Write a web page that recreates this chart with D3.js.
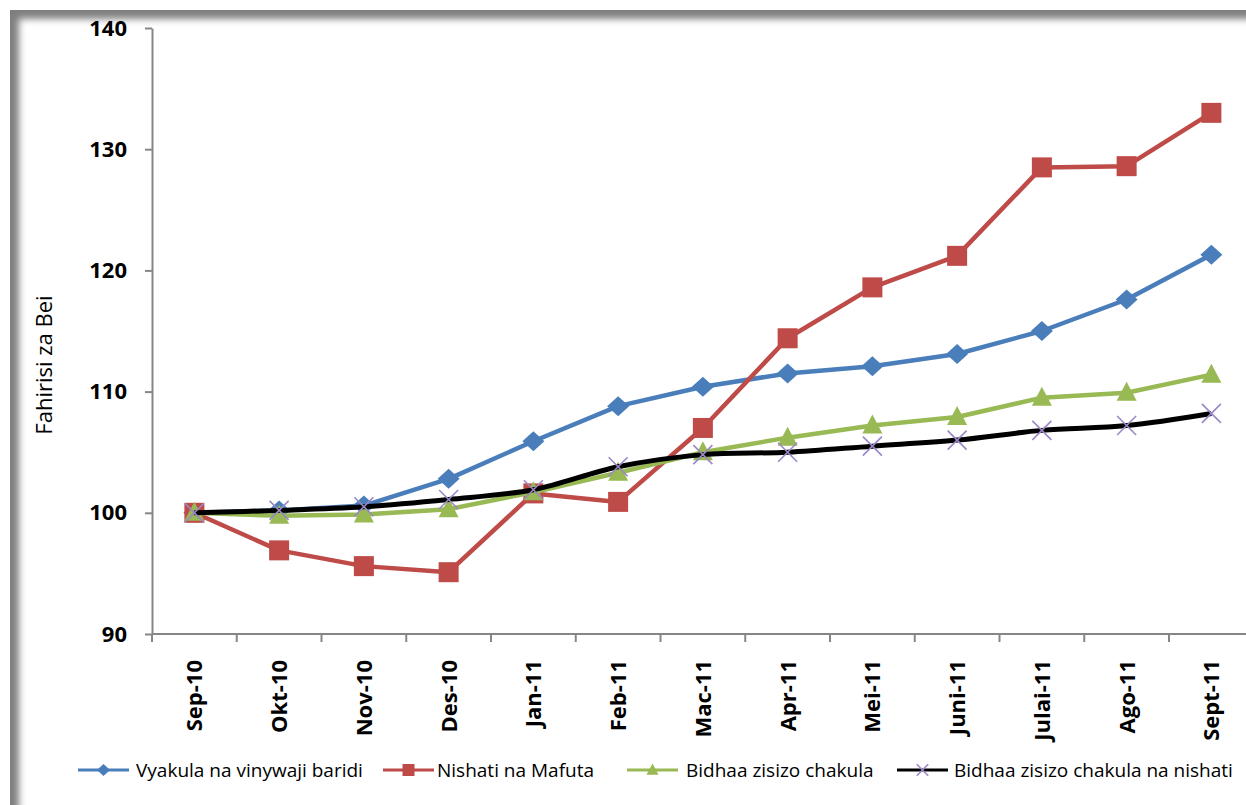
<!DOCTYPE html>
<html>
<head>
<meta charset="utf-8">
<script src="https://cdn.jsdelivr.net/npm/d3@7"></script>
<style>
  html, body { margin: 0; padding: 0; background: #fff; overflow: hidden; }
  text { font-family: "Open Sans", "Noto Sans", sans-serif; }
</style>
</head>
<body>
<div id="grafica"></div>
<script>
// miezi (categories)
const miezi = ["Sep-10", "Okt-10", "Nov-10", "Des-10", "Jan-11", "Feb-11", "Mac-11",
               "Apr-11", "Mei-11", "Juni-11", "Julai-11", "Ago-11", "Sept-11"];

// series values
const vyakula  = [100, 100.2, 100.6, 102.8, 105.9, 108.8, 110.4, 111.5, 112.1, 113.1, 115.0, 117.6, 121.3];
const nishati  = [100, 96.9, 95.6, 95.1, 101.6, 100.9, 107.0, 114.4, 118.6, 121.2, 128.5, 128.6, 133.0];
const bidhaa   = [100, 99.75, 99.85, 100.3, 101.7, 103.3, 105.0, 106.2, 107.2, 107.9, 109.5, 109.9, 111.4];
const bidhaaNn = [100, 100.2, 100.5, 101.1, 101.9, 103.8, 104.8, 105.0, 105.5, 106.0, 106.8, 107.2, 108.2];

const yTicks = [90, 100, 110, 120, 130, 140];

const mfululizo = [
  { jina: "Vyakula na vinywaji baridi", maadili: vyakula, rangi: "#4a7ebb", alama: "diamond", laini: false },
  { jina: "Nishati na Mafuta", maadili: nishati, rangi: "#be4b48", alama: "square", laini: false },
  { jina: "Bidhaa zisizo chakula", maadili: bidhaa, rangi: "#98b954", alama: "triangle", laini: false },
  { jina: "Bidhaa zisizo chakula na nishati", maadili: bidhaaNn, rangi: "#000000", alama: "x", laini: true }
];

const W = 1246, H = 805;
const svg = d3.select("#grafica").append("svg")
  .attr("width", W).attr("height", H)
  .attr("viewBox", `0 0 ${W} ${H}`);

// fremu yenye kivuli
const defs = svg.append("defs");
defs.append("filter").attr("id", "blur")
  .attr("x", "-5%").attr("y", "-5%").attr("width", "110%").attr("height", "110%")
  .append("feGaussianBlur").attr("stdDeviation", 3.5);
svg.append("rect").attr("x", 10).attr("y", 10).attr("width", W + 40).attr("height", H + 40)
  .attr("fill", "#7f7f7f");
svg.append("rect").attr("x", 19).attr("y", 19).attr("width", W + 40).attr("height", H + 40)
  .attr("fill", "#fff").attr("filter", "url(#blur)");

const pLeft = 152, pTop = 28, pBottom = 634;
const x = d3.scaleBand().domain(miezi).range([pLeft, pLeft + 13 * 84.75]).padding(0);
const y = d3.scaleLinear().domain([90, 140]).range([pBottom, pTop]);
const cx = d => x(d) + x.bandwidth() / 2;

// mhimili wa Y
const yAxis = svg.append("g")
  .attr("transform", `translate(${pLeft},0)`)
  .call(d3.axisLeft(y).tickValues(yTicks).tickSize(7).tickPadding(18).tickSizeOuter(0));
yAxis.select(".domain").attr("stroke", "#868686").attr("stroke-width", 2);
yAxis.selectAll(".tick line").attr("stroke", "#868686").attr("stroke-width", 2);
yAxis.selectAll("text")
  .style("font-size", "22px").style("font-weight", "bold").attr("fill", "#000");

// mhimili wa X (ticks on category boundaries)
const xAxis = svg.append("g")
  .attr("transform", `translate(${-x.bandwidth() / 2},${pBottom})`)
  .call(d3.axisBottom(x).tickSize(8).tickFormat("").tickSizeOuter(0));
xAxis.select(".domain").remove();
xAxis.selectAll(".tick line").attr("stroke", "#868686").attr("stroke-width", 2);
svg.append("line")
  .attr("x1", pLeft).attr("x2", W).attr("y1", pBottom).attr("y2", pBottom)
  .attr("stroke", "#868686").attr("stroke-width", 2);

svg.append("g").selectAll("text")
  .data(miezi).enter().append("text")
  .attr("transform", d => `translate(${cx(d) + 8},${pBottom + 26}) rotate(-90)`)
  .attr("text-anchor", "end")
  .style("font-size", "22px").style("font-weight", "bold")
  .text(d => d);

// kichwa cha mhimili wa Y
svg.append("text")
  .attr("transform", `translate(52,365) rotate(-90)`)
  .attr("text-anchor", "middle")
  .style("font-size", "22px")
  .text("Fahirisi za Bei");

// alama
function chora(g, aina, rangi, px, py, s) {
  if (aina === "diamond") {
    const w = s * 0.55, h = s * 0.5;
    g.append("path").attr("d", `M${px},${py - h}L${px + w},${py}L${px},${py + h}L${px - w},${py}Z`)
      .attr("fill", rangi);
  } else if (aina === "square") {
    g.append("rect").attr("x", px - s / 2).attr("y", py - s / 2)
      .attr("width", s).attr("height", s).attr("fill", rangi);
  } else if (aina === "triangle") {
    g.append("path").attr("d", `M${px},${py - s * 0.55}L${px + s * 0.5},${py + s * 0.4}L${px - s * 0.5},${py + s * 0.4}Z`)
      .attr("fill", rangi);
  } else {
    const h = s / 2;
    g.append("path").attr("d", `M${px - h},${py - h}L${px + h},${py + h}M${px - h},${py + h}L${px + h},${py - h}`)
      .attr("stroke", "#9b87c6").attr("stroke-width", 1.6).attr("fill", "none");
  }
}

const ukubwa = { diamond: 20, square: 20, triangle: 20, x: 19 };

mfululizo.forEach(m => {
  const g = svg.append("g");
  const line = d3.line()
    .x((v, i) => cx(miezi[i]))
    .y(v => y(v))
    .curve(m.laini ? d3.curveCatmullRom.alpha(0.5) : d3.curveLinear);
  g.append("path").attr("d", line(m.maadili))
    .attr("fill", "none").attr("stroke", m.rangi).attr("stroke-width", m.laini ? 5 : 4.5)
    .attr("stroke-linejoin", "round");
  m.maadili.forEach((v, i) => chora(g, m.alama, m.rangi, cx(miezi[i]), y(v), ukubwa[m.alama]));
});

// legend
const legendPos = [
  { x1: 78, tx: 136 },
  { x1: 383, tx: 437 },
  { x1: 627, tx: 686 },
  { x1: 897, tx: 954 }
];
const ly = 770;
mfululizo.forEach((m, i) => {
  const p = legendPos[i];
  const g = svg.append("g");
  g.append("line").attr("x1", p.x1).attr("x2", p.x1 + 51).attr("y1", ly).attr("y2", ly)
    .attr("stroke", m.rangi).attr("stroke-width", 3);
  chora(g, m.alama, m.rangi, p.x1 + 25.5, ly, ukubwa[m.alama] * 0.6);
  g.append("text").attr("x", p.tx).attr("y", ly + 7)
    .style("font-size", "19px").text(m.jina);
});
</script>
</body>
</html>
